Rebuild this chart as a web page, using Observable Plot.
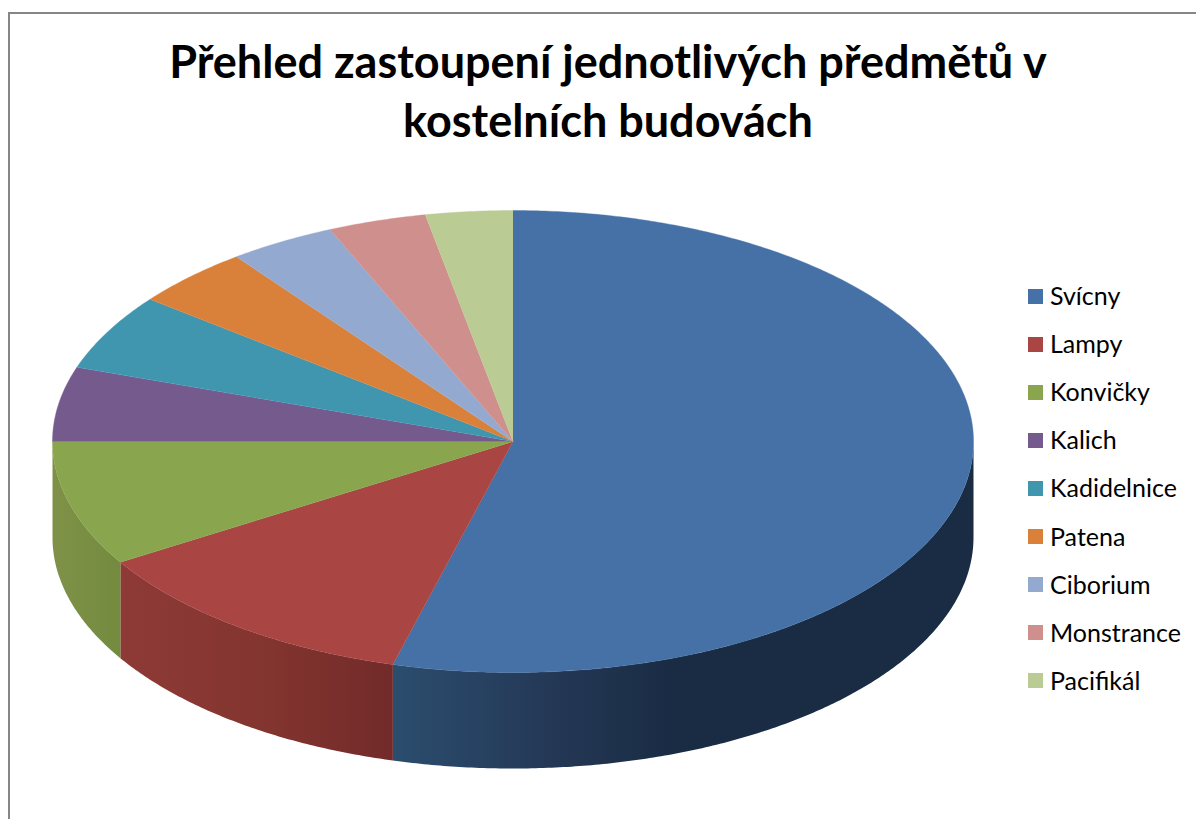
<!DOCTYPE html>
<html lang="cs">
<head>
<meta charset="utf-8">
<script src="https://cdn.jsdelivr.net/npm/d3@7"></script>
<script src="https://cdn.jsdelivr.net/npm/@observablehq/plot@0.6"></script>
<style>
html,body{margin:0;padding:0;background:#fff;overflow:hidden}
#page{position:relative;width:1196px;height:819px;font-family:Lato,"Open Sans",sans-serif;color:#000}
#frame{position:absolute;left:8px;top:12px;right:0;bottom:0;border-left:2px solid #868686;border-top:2px solid #868686}
#title{position:absolute;left:9px;width:1198px;top:32px;text-align:center;font-weight:700;font-size:45px;line-height:59px}
#legend{position:absolute;left:1028px;top:272px}
.row{display:flex;align-items:center;height:48.1px;font-size:25px}
.row span:last-child{position:relative;top:-1px}
.sw{width:15px;height:15px;margin-right:7px;flex:none}
#chart{position:absolute;left:0;top:0}
svg{display:block}
</style>
</head>
<body>
<div id="page">
  <div id="frame"></div>
  <div id="chart"></div>
  <div id="title">Přehled zastoupení jednotlivých předmětů v<br>kostelních budovách</div>
  <div id="legend"></div>
</div>
<script>
const categories = ["Svícny","Lampy","Konvičky","Kalich","Kadidelnice","Patena","Ciborium","Monstrance","Pacifikál"];
const shares = [54.2,12.05,8.75,5.2,5.35,4.2,3.75,3.45,3.05];
const colors = ["#4571A6","#A94543","#89A54E","#745A8D","#4196AF","#D9813B","#93A9CF","#CF8F8D","#BACB94"];
const sideGradients = {
  "Svícny":[["0%","#2B4D6E"],["25%","#253A58"],["48%","#1A2C44"],["100%","#1A2C44"]],
  "Lampy":[["0%","#8E3A37"],["50%","#84352F"],["100%","#722B2A"]],
  "Konvičky":[["0%","#7F9148"],["100%","#738B3E"]]
};
const depth = 96 / 231;          // rim height in units of the vertical radius

const arcs = d3.pie().sort(null).value(d => d)(shares);
const rimPoint = t => ({x: Math.sin(t), y: Math.cos(t)});
const arcAngles = (a, b) => {
  const n = Math.max(2, Math.ceil((b - a) / (Math.PI / 360)));
  return d3.range(n + 1).map(i => a + (b - a) * i / n);
};

// Top faces
const faces = arcs.flatMap((arc, i) => [
  {name: categories[i], x: 0, y: 0},
  ...arcAngles(arc.startAngle, arc.endAngle).map(t => ({name: categories[i], ...rimPoint(t)}))
]);

// Visible rim: front half of the ellipse only
const sideMarks = arcs.flatMap((arc, i) => {
  const a = Math.max(arc.startAngle, Math.PI / 2), b = Math.min(arc.endAngle, 3 * Math.PI / 2);
  if (b <= a) return [];
  const ts = arcAngles(a, b);
  const pts = [
    ...ts.map(rimPoint),
    ...ts.slice().reverse().map(t => { const p = rimPoint(t); return {x: p.x, y: p.y - depth}; })
  ];
  return [Plot.line(pts, {x: "x", y: "y", fill: `url(#side${i})`, stroke: "none", curve: "linear"})];
});

const gradientDefs = () => {
  const defs = d3.create("svg:defs");
  categories.forEach((name, i) => {
    if (!sideGradients[name]) return;
    const g = defs.append("linearGradient").attr("id", `side${i}`).attr("x1", 0).attr("x2", 1).attr("y1", 0).attr("y2", 0);
    sideGradients[name].forEach(([o, c]) => g.append("stop").attr("offset", o).attr("stop-color", c));
  });
  return defs.node();
};

const chart = Plot.plot({
  width: 1196,
  height: 819,
  margin: 0,
  style: {background: "transparent"},
  x: {domain: [-1, 1], range: [52, 973], axis: null},
  y: {domain: [1, -1], range: [210, 672], axis: null},
  color: {domain: categories, range: colors},
  marks: [
    gradientDefs,
    ...sideMarks,
    Plot.line(faces, {x: "x", y: "y", z: "name", fill: "name", stroke: "name", strokeWidth: 0.4, curve: "linear"})
  ]
});
document.getElementById("chart").append(chart);

const legend = d3.select("#legend");
categories.forEach((name, i) => {
  const row = legend.append("div").attr("class", "row");
  row.append("span").attr("class", "sw").style("background", colors[i]);
  row.append("span").text(name);
});
</script>
</body>
</html>
